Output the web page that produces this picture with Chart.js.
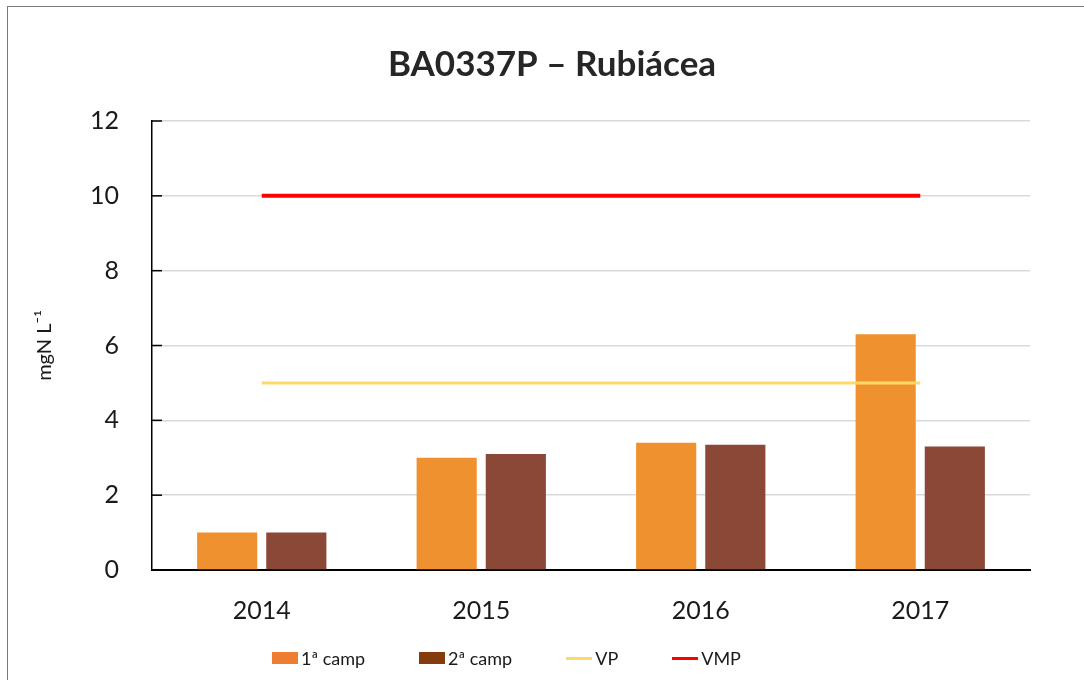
<!DOCTYPE html>
<html>
<head>
<meta charset="utf-8">
<script src="https://cdn.jsdelivr.net/npm/chart.js@4/dist/chart.umd.min.js"></script>
<style>
  html, body { margin: 0; padding: 0; background: #ffffff; }
  #wrap { position: relative; width: 1084px; height: 680px; overflow: hidden; }
  #frame {
    position: absolute; left: 7px; top: 6px; width: 1200px; height: 800px;
    border-left: 1px solid #7a7a7a; border-top: 1px solid #7a7a7a;
  }
  #chart { position: absolute; left: 0; top: 0; }
  #legend {
    position: absolute; left: 272px; top: 646px; height: 24px;
    display: flex; align-items: center; gap: 54px;
    font-family: Lato, "Open Sans", sans-serif; font-size: 18px; color: #1a1a1a;
  }
  #legend .item { display: flex; align-items: center; white-space: nowrap; }
  #legend .swatch { width: 26px; margin-right: 3px; }
</style>
</head>
<body>
<div id="wrap">
  <div id="frame"></div>
  <canvas id="chart" width="1084" height="680"></canvas>
  <div id="legend"></div>
</div>
<script>
const years = ["2014", "2015", "2016", "2017"];
const firstCampaign = [1.0, 3.0, 3.4, 6.3];
const secondCampaign = [1.0, 3.1, 3.35, 3.3];
const vpLimit = [5, 5, 5, 5];
const vmpLimit = [10, 10, 10, 10];
const yTicks = [0, 2, 4, 6, 8, 10, 12];

const FONT = "Lato, 'Open Sans', sans-serif";
const legendFill = ["#ED7D31", "#843C0C", "#FFD966", "#FF0000"];

// small black ticks drawn inside the plot along the y axis
const innerTicks = {
  id: "innerTicks",
  afterDraw(chart) {
    const y = chart.scales.y;
    const ctx = chart.ctx;
    ctx.save();
    ctx.strokeStyle = "#000000";
    ctx.lineWidth = 1.5;
    y.ticks.forEach((t) => {
      const py = y.getPixelForValue(t.value);
      ctx.beginPath();
      ctx.moveTo(y.right, py);
      ctx.lineTo(y.right + 10, py);
      ctx.stroke();
    });
    ctx.restore();
  }
};

const chart = new Chart(document.getElementById("chart"), {
  data: {
    labels: years,
    datasets: [
      {
        type: "bar",
        label: "1ª camp",
        data: firstCampaign,
        backgroundColor: "#F0912F",
        borderWidth: 0,
        order: 2
      },
      {
        type: "bar",
        label: "2ª camp",
        data: secondCampaign,
        backgroundColor: "#8B4836",
        borderWidth: 0,
        order: 2
      },
      {
        type: "line",
        label: "VP",
        data: vpLimit,
        borderColor: "#FFD966",
        backgroundColor: "#FFD966",
        borderWidth: 3,
        pointRadius: 0,
        order: 1
      },
      {
        type: "line",
        label: "VMP",
        data: vmpLimit,
        borderColor: "#FF0000",
        backgroundColor: "#FF0000",
        borderWidth: 4,
        pointRadius: 0,
        order: 1
      }
    ]
  },
  plugins: [innerTicks],
  options: {
    responsive: false,
    animation: false,
    categoryPercentage: 0.63,
    barPercentage: 0.87,
    layout: { padding: { left: 74, right: 54, top: 0, bottom: 50 } },
    plugins: {
      tooltip: { enabled: false },
      legend: { display: false },
      title: {
        display: true,
        text: "BA0337P – Rubiácea",
        color: "#262626",
        font: { family: FONT, size: 35, weight: "bold" },
        padding: { top: 44, bottom: 35 }
      }
    },
    scales: {
      x: {
        offset: true,
        grid: { display: false },
        border: { display: true, color: "#000000", width: 2 },
        ticks: {
          color: "#1a1a1a",
          padding: 18,
          font: { family: FONT, size: 25 }
        },
        afterFit(scale) { scale.height = 60; }
      },
      y: {
        min: 0,
        max: 12,
        afterBuildTicks(scale) { scale.ticks = yTicks.map((v) => ({ value: v })); },
        grid: { color: "#d9d9d9", lineWidth: 1.5, drawTicks: false },
        border: { display: true, color: "#000000", width: 1.5 },
        ticks: {
          color: "#1a1a1a",
          padding: 33,
          font: { family: FONT, size: 25 }
        },
        title: {
          display: true,
          text: "mgN L⁻¹",
          color: "#1a1a1a",
          font: { family: FONT, size: 20 },
          padding: { top: -41, bottom: 0 }
        },
        afterFit(scale) { scale.width = 78; }
      }
    }
  }
});

// legend built from the chart's own datasets
const legendEl = document.getElementById("legend");
chart.data.datasets.forEach((ds, i) => {
  const item = document.createElement("div");
  item.className = "item";
  const sw = document.createElement("span");
  sw.className = "swatch";
  sw.style.background = legendFill[i];
  sw.style.height = ds.type === "line" ? "3px" : "12px";
  const txt = document.createElement("span");
  txt.textContent = ds.label;
  item.appendChild(sw);
  item.appendChild(txt);
  legendEl.appendChild(item);
});
</script>
</body>
</html>
